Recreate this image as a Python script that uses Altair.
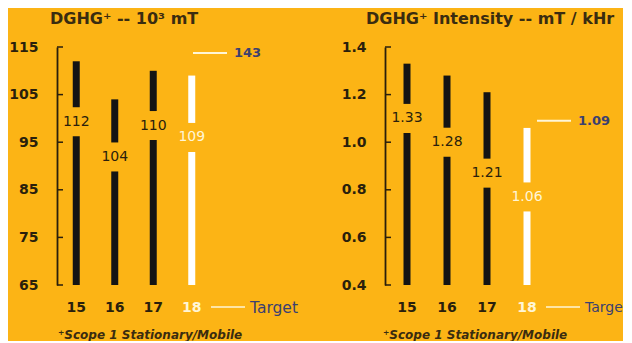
import altair as alt
import pandas as pd

years = ["15", "16", "17", "18"]
emissions = [112, 104, 110, 109]
emissions_label_at = [99.3, 91.9, 98.5, 96.0]
emissions_target = 143
emissions_ticks = [65, 75, 85, 95, 105, 115]

intensity = [1.33, 1.28, 1.21, 1.06]
intensity_label_at = [1.10, 1.00, 0.87, 0.77]
intensity_target = 1.09
intensity_ticks = [0.4, 0.6, 0.8, 1.0, 1.2, 1.4]

titles = ["DGHG\u207a  --  10\u00b3 mT", "DGHG\u207a Intensity --  mT / kHr"]
footnote = "\u207aScope 1 Stationary/Mobile"

BG = "#FCB415"
DARK = "#2a1f0c"
BAR = "#141414"
CREAM = "#FFF6D6"
NAVY = "#3b4070"
FONT = "DejaVu Sans"
H = 238


def panel(values, label_at, target, ticks, fmt, label_fmt, title, width, pad_outer,
          tgt_x, legend_x, title_x, foot_x, legend_size, legend_limit):
    lo_d, hi_d = ticks[0], ticks[-1]
    per_px = (hi_d - lo_d) / H
    gap = 14.5 * per_px
    df = pd.DataFrame({"year": years, "value": values, "label_at": label_at})
    tdf = pd.DataFrame({"target": [target]})
    kdf = pd.DataFrame({"t": ticks})

    yscale = alt.Scale(domain=[lo_d, hi_d], nice=False, zero=False)
    xenc = alt.X(
        "year:N", sort=years,
        scale=alt.Scale(paddingInner=0, paddingOuter=pad_outer),
        axis=alt.Axis(title=None, domain=False, ticks=False, labelAngle=0,
                      labelFont=FONT, labelFontSize=14, labelFontWeight="bold",
                      labelPadding=15,
                      labelColor=alt.ExprRef("datum.value == '18' ? '#FFF6D6' : '#2a1f0c'")),
    )
    yaxis = alt.Axis(values=ticks, format=fmt, title=None, ticks=False, grid=False,
                     domain=True, domainColor=DARK, domainWidth=1.8,
                     labelFont=FONT, labelFontSize=14, labelFontWeight="bold",
                     labelColor=DARK, labelPadding=19)
    colour = alt.condition("datum.year == '18'", alt.value("#ffffff"), alt.value(BAR))
    tcolour = alt.condition("datum.year == '18'", alt.value(CREAM), alt.value(DARK))

    base = alt.Chart(df).transform_calculate(
        base=str(lo_d), lo=f"datum.label_at - {gap}", hi=f"datum.label_at + {gap}"
    )
    lower = base.mark_bar(size=7).encode(
        x=xenc, y=alt.Y("base:Q", scale=yscale, axis=yaxis), y2="lo:Q", color=colour)
    upper = base.mark_bar(size=7).encode(
        x=alt.X("year:N", sort=years), y=alt.Y("hi:Q"), y2="value:Q", color=colour)
    labels = alt.Chart(df).mark_text(font=FONT, fontSize=14, baseline="middle").encode(
        x=alt.X("year:N", sort=years), y=alt.Y("label_at:Q"),
        text=alt.Text("value:Q", format=label_fmt), color=tcolour)
    tick_rules = alt.Chart(kdf).mark_rule(color=DARK, strokeWidth=1.5).encode(
        y=alt.Y("t:Q"), x=alt.value(0), x2=alt.value(6))

    cap = hi_d - 6 * per_px
    tgt = alt.Chart(tdf).transform_calculate(ypos=f"min(datum.target, {cap})")
    tgt_line = tgt.mark_rule(color=CREAM, strokeWidth=2).encode(
        y=alt.Y("ypos:Q"), x=alt.value(tgt_x), x2=alt.value(tgt_x + 34))
    tgt_text = tgt.mark_text(font=FONT, fontSize=13, fontWeight="bold", color=NAVY,
                             align="left", baseline="middle").encode(
        y=alt.Y("ypos:Q"), x=alt.value(tgt_x + 41),
        text=alt.Text("target:Q", format=label_fmt))
    leg_line = alt.Chart(tdf).mark_rule(color=CREAM, strokeWidth=1.5).encode(
        y=alt.value(260), x=alt.value(legend_x), x2=alt.value(legend_x + 34))
    leg_text = alt.Chart(tdf).mark_text(font=FONT, fontSize=legend_size, color=NAVY,
                                        align="left", baseline="middle",
                                        limit=legend_limit, ellipsis="\u200b").encode(
        y=alt.value(261), x=alt.value(legend_x + 39), text=alt.value("Target"))
    title_t = alt.Chart(tdf).mark_text(font=FONT, fontSize=16, fontWeight="bold",
                                       color="#3a2c10", align="left",
                                       baseline="middle").encode(
        x=alt.value(title_x), y=alt.value(-28), text=alt.value(title))
    foot_t = alt.Chart(tdf).mark_text(font=FONT, fontSize=12, fontWeight="bold",
                                      fontStyle="italic", color="#3a2c10", align="left",
                                      baseline="middle").encode(
        x=alt.value(foot_x), y=alt.value(288), text=alt.value(footnote))

    return alt.layer(lower, upper, labels, tick_rules, tgt_line, tgt_text,
                     leg_line, leg_text, title_t, foot_t).properties(width=width, height=H)


left = panel(emissions, emissions_label_at, emissions_target, emissions_ticks,
             "d", ".0f", titles[0], 154, 0.0, 136, 154, -7, 1, 15.5, 100)
right = panel(intensity, intensity_label_at, intensity_target, intensity_ticks,
              ".1f", ".2f", titles[1], 164, 0.05, 152, 161, -19, -2, 14, 39)

chart = alt.hconcat(left, right, spacing=43).properties(
    background=BG, padding={"left": 0, "top": 3, "right": 0, "bottom": 0}
).configure_view(stroke=None)

chart.save("out.html", embed_options={"renderer": "svg", "actions": False})
